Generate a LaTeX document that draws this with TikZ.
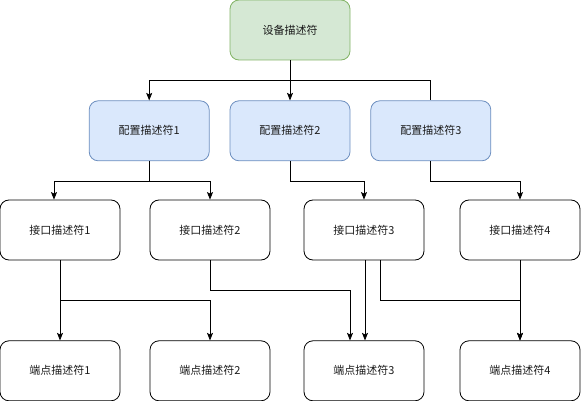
\documentclass[tikz,border=0pt]{standalone}
\usepackage{fontspec}
\usepackage{xcolor}
\usetikzlibrary{arrows.meta,positioning}
\newfontfamily\cjk{Noto Sans CJK SC}
\definecolor{devicefill}{HTML}{D5E8D4}
\definecolor{deviceline}{HTML}{82B366}
\definecolor{configfill}{HTML}{DAE8FC}
\definecolor{configline}{HTML}{6C8EBF}
\definecolor{textgray}{HTML}{1A1A1A}
\tikzset{
  descbox/.style={
    rounded corners=9pt,
    minimum width=120pt,
    minimum height=60pt,
    inner sep=0pt,
    align=center,
    line width=0.8pt,
    text=textgray,
    font=\cjk\fontsize{11}{13}\selectfont,
  },
  device/.style={
    descbox,
    draw=deviceline,
    fill=devicefill,
  },
  config/.style={
    descbox,
    draw=configline,
    fill=configfill,
  },
  plain/.style={
    descbox,
    draw=black,
    fill=white,
  },
  link/.style={
    -{Stealth[length=7.5pt,width=6pt,inset=1.5pt]},
    line width=0.8pt,
  },
  bare link/.style={
    line width=0.8pt,
  },
}
\begin{document}
\begin{tikzpicture}[x=1pt,y=1pt]
  \useasboundingbox (0,0) rectangle (581,-401);

  \node[device] (dev) at (290,-30) {设备描述符};

  \node[config, below=40pt of dev] (cfg2) {配置描述符2};
  \node[config, left=20pt of cfg2] (cfg1) {配置描述符1};
  \node[config, right=20pt of cfg2] (cfg3) {配置描述符3};

  \node[plain] (if1) at (60,-230) {接口描述符1};
  \node[plain] (if2) at (210,-230) {接口描述符2};
  \node[plain] (if3) at (364,-230) {接口描述符3};
  \node[plain] (if4) at (520,-230) {接口描述符4};

  \node[plain, below=80pt of if1] (ep1) {端点描述符1};
  \node[plain, below=80pt of if2] (ep2) {端点描述符2};
  \node[plain, below=80pt of if3] (ep3) {端点描述符3};
  \node[plain, below=80pt of if4] (ep4) {端点描述符4};

  % device -> configurations
  \draw[link] (dev.south) -- ++(0,-20) -| (cfg1.north);
  \draw[link] (dev.south) -- (cfg2.north);
  \draw[bare link] (dev.south) -- ++(0,-20) -| (cfg3.north);

  % configurations -> interfaces
  \draw[link] (cfg1.south) -- ++(0,-20) -| ([xshift=-6pt]if1.north);
  \draw[link] (cfg1.south) -- ++(0,-20) -| (if2.north);
  \draw[link] (cfg2.south) -- ++(0,-20) -| (if3.north);
  \draw[link] (cfg3.south) -- ++(0,-20) -| (if4.north);

  % interfaces -> endpoints
  \draw[link] (if1.south) -- (ep1.north);
  \draw[link] (if1.south) -- ++(0,-40) -| (ep2.north);
  \draw[link] (if2.south) -- ++(0,-30) -| ([xshift=-14pt]ep3.north);
  \draw[link] ([xshift=1pt]if3.south) -- ([xshift=1pt]ep3.north);
  \draw[link] ([xshift=16pt]if3.south) -- ++(0,-40) -| (ep4.north);
  \draw[link] (if4.south) -- (ep4.north);
\end{tikzpicture}
\end{document}
